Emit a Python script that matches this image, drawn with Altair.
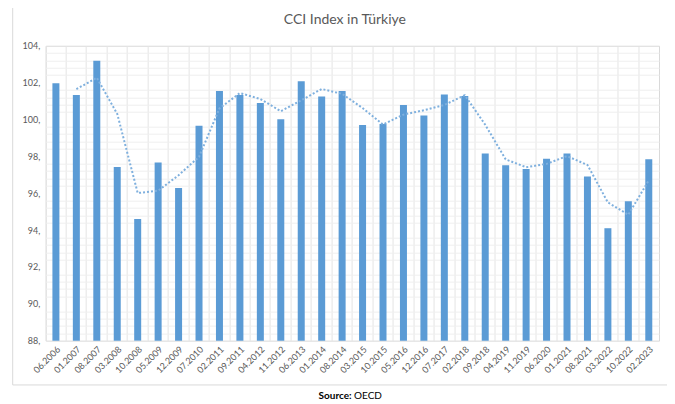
import altair as alt
import pandas as pd

dates = ["06.2006", "01.2007", "08.2007", "03.2008", "10.2008", "05.2009", "12.2009",
         "07.2010", "02.2011", "09.2011", "04.2012", "11.2012", "06.2013", "01.2014",
         "08.2014", "03.2015", "10.2015", "05.2016", "12.2016", "07.2017", "02.2018",
         "09.2018", "04.2019", "11.2019", "06.2020", "01.2021", "08.2021", "03.2022",
         "10.2022", "02.2023"]
values = [101.96, 101.33, 103.19, 97.42, 94.60, 97.67, 96.28,
          99.66, 101.54, 101.33, 100.89, 100.01, 102.07, 101.24,
          101.54, 99.70, 99.75, 100.78, 100.22, 101.36, 101.27,
          98.16, 97.51, 97.31, 97.87, 98.16, 96.90, 94.10,
          95.56, 97.84]
order = list(range(len(dates)))

df = pd.DataFrame({"date": dates, "value": values, "idx": order})

BLUE = "#5B9BD5"
FONT = "Lato"
GRAY = "#595959"

major_ticks = list(range(88, 105, 2))
minor_ticks = [round(88 + 0.4 * i, 1) for i in range(41) if (i % 5) != 0]

xenc = alt.X("date:N", sort=dates,
             scale=alt.Scale(paddingInner=0, paddingOuter=0),
             axis=alt.Axis(title=None, labelAngle=-45, labelFont=FONT, labelFontSize=9,
                           labelColor=GRAY, ticks=False, domain=False, grid=True,
                           gridColor="#e4e4e4", bandPosition=0, labelPadding=4))
yscale = alt.Scale(domain=[88, 104], zero=False, nice=False)

base = alt.Chart(df)

bars = base.mark_bar(color=BLUE, size=7).encode(
    x=xenc,
    y=alt.Y("value:Q", scale=yscale,
            axis=alt.Axis(title=None, values=major_ticks, labelExpr="datum.value + ','",
                          labelFont=FONT, labelFontSize=9, labelColor=GRAY, ticks=False,
                          domain=False, gridColor="#d9d9d9", labelPadding=6)),
    y2=alt.datum(88),
)

minor = base.mark_rule(opacity=0).encode(
    y=alt.Y("value:Q", scale=yscale,
            axis=alt.Axis(title=None, orient="right", values=minor_ticks, labels=False,
                          ticks=False, domain=False, grid=True, gridColor="#efefef")),
)

line = base.transform_window(
    ma="mean(value)", frame=[-1, 0], sort=[alt.SortField("idx")]
).transform_filter("datum.idx > 0").mark_line(
    color="#7FB0DE", strokeWidth=2, strokeDash=[2, 2]
).encode(
    x=alt.X("date:N", sort=dates, bandPosition=0.5),
    y=alt.Y("ma:Q", scale=yscale, axis=None),
)

border = alt.Chart(pd.DataFrame({"a": [0]})).mark_rect(
    fill="transparent", stroke="#d9d9d9", strokeWidth=1
).encode(x=alt.value(-33), x2=alt.value(626), y=alt.value(-39), y2=alt.value(339.3))

title = alt.Chart(pd.DataFrame({"t": ["CCI Index in Türkiye"]})).mark_text(
    font=FONT, fontSize=14, color=GRAY, align="center", baseline="middle"
).encode(text="t:N", x=alt.value(299.3), y=alt.value(-25.5))

src_bold = alt.Chart(pd.DataFrame({"t": ["Source:"]})).mark_text(
    font=FONT, fontSize=10, fontWeight="bold", color="#000000", align="right", baseline="middle"
).encode(text="t:N", x=alt.value(306), y=alt.value(350))
src_norm = alt.Chart(pd.DataFrame({"t": ["OECD"]})).mark_text(
    font=FONT, fontSize=10, color="#000000", align="left", baseline="middle"
).encode(text="t:N", x=alt.value(308.5), y=alt.value(350))

chart = alt.layer(minor, bars, line, border, title, src_bold, src_norm).resolve_axis(
    y="independent"
).properties(
    width=613.5, height=295,
    autosize=alt.AutoSizeParams(type="none"),
    padding={"left": 37.7, "top": 37.7, "right": 8, "bottom": 59},
).configure_view(stroke="#d9d9d9")

chart.save("out.html", embed_options={"renderer": "svg", "actions": False})
